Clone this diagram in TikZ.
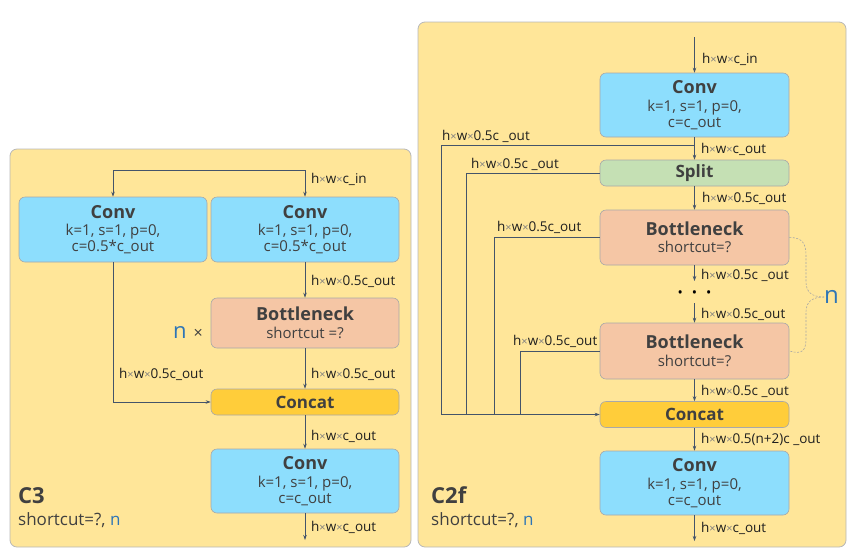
\documentclass[tikz,border=0pt]{standalone}
\usepackage{fontspec}
\setmainfont{Open Sans}
\usetikzlibrary{arrows.meta}
\definecolor{panel}{HTML}{FFE699}
\definecolor{panelline}{HTML}{B8B8B8}
\definecolor{convc}{HTML}{8DDEFD}
\definecolor{bottc}{HTML}{F5C6A5}
\definecolor{concc}{HTML}{FFCD3A}
\definecolor{splitc}{HTML}{C5E0B4}
\definecolor{boxline}{HTML}{A8A8A8}
\definecolor{txt}{HTML}{404040}
\definecolor{arr}{HTML}{44546A}
\definecolor{nblue}{HTML}{2E75B6}
\definecolor{xgray}{HTML}{7F7F7F}
\newcommand{\tms}{{\color{xgray}\fontsize{11}{11}\selectfont ×}}
\newcommand{\hwx}{h\tms w\tms}
\tikzset{
  panelbox/.style={draw=panelline, fill=panel, rounded corners=7pt, line width=0.8pt, inner sep=0pt},
  blk/.style={draw=boxline, rounded corners=6pt, text=txt, align=center, inner sep=0pt,
    font=\fontsize{15}{16}\selectfont, line width=0.6pt},
  convbox/.style={blk, fill=convc, minimum width=188pt, minimum height=65pt},
  bnbox/.style={blk, fill=bottc, minimum width=188pt},
  catbox/.style={blk, fill=concc, minimum width=188pt, minimum height=26pt},
  splitbox/.style={blk, fill=splitc, minimum width=188pt, minimum height=26pt},
  lbl/.style={anchor=base west, font=\fontsize{13.5}{14}\selectfont, text=black!88, inner sep=0pt},
  arrowline/.style={draw=arr, line width=0.7pt, -{Stealth[length=5pt,width=3.5pt]}},
  plainline/.style={draw=arr, line width=0.7pt},
  bracel/.style={draw=black!35, line width=0.6pt, dash pattern=on 2pt off 1.5pt},
}
\newcommand{\boxttl}[1]{{\fontsize{18}{18}\selectfont\bfseries #1}\\[1.5pt]}
\begin{document}
\begin{tikzpicture}[x=1pt,y=-1pt]
\useasboundingbox (0,0) rectangle (854,558);
% panels
\node[panelbox, minimum width=401pt, minimum height=398pt] (p3) at (210.5,348) {};
\node[panelbox, minimum width=428pt, minimum height=525pt] (p2) at (632,284.5) {};

% ---------------- C3 ----------------
\node[convbox] (c3a) at (113,229.5) {\boxttl{Conv}k=1, s=1, p=0,\\c=0.5*c\_out};
\node[convbox] (c3b) at (305,229.5) {\boxttl{Conv}k=1, s=1, p=0,\\c=0.5*c\_out};
\node[bnbox, minimum height=50pt] (c3bn) at (305,323) {\boxttl{Bottleneck}shortcut =?};
\node[catbox] (c3cat) at (305,402) {\textbf{\fontsize{17}{17}\selectfont Concat}};
\node[convbox, minimum height=64pt] (c3out) at (305,481) {\boxttl{Conv}k=1, s=1, p=0,\\c=c\_out};
\coordinate (c3in) at (305,170);
\coordinate (c3end) at (305,540);
\draw[arrowline] (c3in) -- (c3b.north);
\draw[arrowline] (c3in) -- (c3a.north |- c3in) -- (c3a.north);
\draw[arrowline] (c3b.south) -- (c3bn.north);
\draw[arrowline] (c3bn.south) -- (c3cat.north);
\draw[arrowline] (c3a.south) |- (c3cat.west);
\draw[arrowline] (c3cat.south) -- (c3out.north);
\draw[arrowline] (c3out.south) -- (c3end);
\node[lbl] (l31) at (311,183) {\hwx c\_in};
\node[lbl] (l32) at (311,285) {\hwx 0.5c\_out};
\node[lbl] (l33) at (311,378) {\hwx 0.5c\_out};
\node[lbl] (l34) at (119,378) {\hwx 0.5c\_out};
\node[lbl] (l35) at (311,440) {\hwx c\_out};
\node[lbl] (l36) at (311,531.5) {\hwx c\_out};
\node[anchor=base east, inner sep=0pt] (c3n) at (203,338) {{\color{nblue}\fontsize{22}{22}\selectfont n}\hspace{7pt}{\fontsize{16}{16}\selectfont\color{txt}×}};
\node[anchor=base west, inner sep=0pt, text=txt] (c3t) at (18,503) {\fontsize{22}{22}\selectfont\bfseries C3};
\node[anchor=base west, inner sep=0pt, text=txt] (c3s) at (18,525) {\fontsize{17}{17}\selectfont shortcut=?, {\color{nblue}n}};

% ---------------- C2f ----------------
\node[convbox, minimum width=189pt, minimum height=64pt] (fconv) at (694.5,105) {\boxttl{Conv}k=1, s=1, p=0,\\c=c\_out};
\node[splitbox, minimum width=189pt] (fsplit) at (694.5,173) {\textbf{\fontsize{17}{17}\selectfont Split}};
\node[bnbox, minimum width=189pt, minimum height=55pt] (fbn1) at (694.5,237.5) {\boxttl{Bottleneck}shortcut=?};
\node[bnbox, minimum width=189pt, minimum height=56pt] (fbn2) at (694.5,351) {\boxttl{Bottleneck}shortcut=?};
\node[catbox, minimum width=189pt] (fcat) at (694.5,414.5) {\textbf{\fontsize{17}{17}\selectfont Concat}};
\node[convbox, minimum width=189pt, minimum height=64pt] (fout) at (694.5,483) {\boxttl{Conv}k=1, s=1, p=0,\\c=c\_out};
\node[inner sep=0pt] (fdots) at (694.5,294) {\fontsize{14}{14}\selectfont\textbullet\hspace{9pt}\textbullet\hspace{9pt}\textbullet};
\coordinate (fin) at (694.5,37);
\coordinate (fd1) at (694.5,281);
\coordinate (fd2) at (694.5,303);
\coordinate (fend) at (694.5,541);
\coordinate (fb1) at (694.5,145);
\coordinate (j1) at (441,145);
\coordinate (j1e) at (441,414.5);
\coordinate (j2) at (466,173);
\coordinate (j2e) at (466,414.5);
\coordinate (j3) at (494,237.5);
\coordinate (j3e) at (494,414.5);
\coordinate (j4) at (520,351);
\coordinate (j4e) at (520,414.5);
\draw[arrowline] (fin) -- (fconv.north);
\draw[arrowline] (fconv.south) -- (fsplit.north);
\draw[arrowline] (fsplit.south) -- (fbn1.north);
\draw[arrowline] (fbn1.south) -- (fd1);
\draw[arrowline] (fd2) -- (fbn2.north);
\draw[arrowline] (fbn2.south) -- (fcat.north);
\draw[arrowline] (fcat.south) -- (fout.north);
\draw[arrowline] (fout.south) -- (fend);
\draw[plainline] (fb1) -- (j1) -- (j1e);
\draw[plainline] (fsplit.west) -- (j2) -- (j2e);
\draw[plainline] (fbn1.west) -- (j3) -- (j3e);
\draw[plainline] (fbn2.west) -- (j4) -- (j4e);
\draw[arrowline] (j1e) -- (fcat.west);
% brace
\node[inner sep=0pt, text=nblue, anchor=west] (fn) at (824,297) {\fontsize{24}{24}\selectfont n};
\draw[bracel] (fbn1.east) .. controls (803,237.5) and (806,244) .. (806,256) -- (806,282) .. controls (806,292) and (812,297) .. (fn.west);
\draw[bracel] (fn.west) .. controls (812,297) and (806,302) .. (806,312) -- (806,338) .. controls (806,350) and (803,355) .. (fbn2.east);
% labels
\node[lbl] (lf1) at (702,63) {\hwx c\_in};
\node[lbl] (lf2) at (701,153) {\hwx c\_out};
\node[lbl] (lf3) at (442,140) {\hwx 0.5c \_out};
\node[lbl] (lf4) at (471,168) {\hwx 0.5c \_out};
\node[lbl] (lf5) at (702,202) {\hwx 0.5c\_out};
\node[lbl] (lf6) at (497,231.5) {\hwx 0.5c\_out};
\node[lbl] (lf7) at (701,279.5) {\hwx 0.5c \_out};
\node[lbl] (lf8) at (701,318) {\hwx 0.5c\_out};
\node[lbl] (lf9) at (513,345) {\hwx 0.5c\_out};
\node[lbl] (lf10) at (701,395) {\hwx 0.5c \_out};
\node[lbl] (lf11) at (701,443) {\hwx 0.5(n+2)c \_out};
\node[lbl] (lf12) at (701,532.5) {\hwx c\_out};
\node[anchor=base west, inner sep=0pt, text=txt] (c2t) at (431,503) {\fontsize{22}{22}\selectfont\bfseries C2f};
\node[anchor=base west, inner sep=0pt, text=txt] (c2s) at (431,525) {\fontsize{17}{17}\selectfont shortcut=?, {\color{nblue}n}};
\end{tikzpicture}
\end{document}
